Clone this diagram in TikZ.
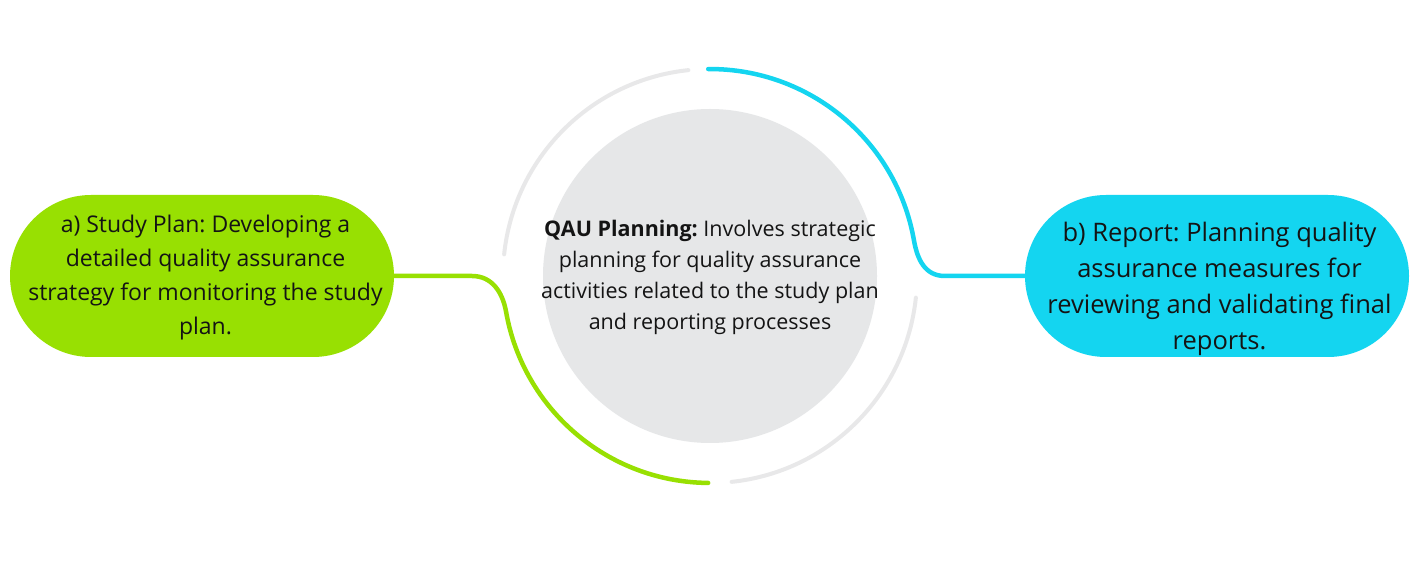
\documentclass[tikz,border=0pt]{standalone}
\usepackage{fontspec}
\setmainfont{Open Sans}
\frenchspacing
\usetikzlibrary{shapes.misc}
\definecolor{qgreen}{HTML}{98E002}
\definecolor{qcyan}{HTML}{14D5F0}
\definecolor{qfill}{HTML}{E6E7E8}
\definecolor{qring}{HTML}{E8E8E9}
\definecolor{qtext}{HTML}{141414}
\begin{document}
\begin{tikzpicture}[x=1pt,y=1pt,
  pill/.style={rounded rectangle, minimum width=384pt, minimum height=162pt, inner sep=0pt},
  pilltext/.style={align=center, text=qtext, inner sep=0pt},
  ctext/.style={align=center, font=\fontsize{21.5}{31}\selectfont, text=qtext, inner sep=0pt},
  ring/.style={line width=4pt, line cap=round},
  conn/.style={line width=4.5pt, line cap=round},
]
\useasboundingbox (0,0) rectangle (1422,581);
\fill[white] (0,0) rectangle (1422,581);
\coordinate (o) at (710,305);
% central circle
\node[circle, fill=qfill, minimum size=334pt, inner sep=0pt] (c) at (o) {};
\node[ctext] (ct) at ([yshift=-1.5pt]c.center) {\textbf{QAU Planning:} Involves strategic\\planning for quality assurance\\activities related to the study plan\\and reporting processes};
% gray ring arcs
\draw[ring, qring] (o) ++(96:207) arc[start angle=96, end angle=174, radius=207];
\draw[ring, qring] (o) ++(-6:207) arc[start angle=-6, end angle=-84, radius=207];
% pills
\node[pill, fill=qgreen] (a) at (202,305) {};
\node[pilltext, font=\fontsize{23}{34}\selectfont] (atext) at ([xshift=3.5pt,yshift=-1.5pt]a.center) {a) Study Plan: Developing a\\detailed quality assurance\\strategy for monitoring the study\\plan.};
\node[pill, fill=qcyan] (b) at (1217,305) {};
\node[pilltext, font=\fontsize{25.5}{36}\selectfont] (btext) at ([xshift=2.5pt,yshift=-12.5pt]b.center) {b) Report: Planning quality\\assurance measures for\\reviewing and validating final\\reports.};
% connectors
\draw[conn, qgreen] (a.east) -- (472,305) .. controls (492,305) and (502.6,288.8) .. (506.1,269.1) arc[start angle=190, end angle=269.5, radius=207];
\draw[conn, qcyan] (b.west) -- (945,305) .. controls (925,305) and (917.4,321.2) .. (913.9,340.9) arc[start angle=10, end angle=90.5, radius=207];
\end{tikzpicture}
\end{document}
